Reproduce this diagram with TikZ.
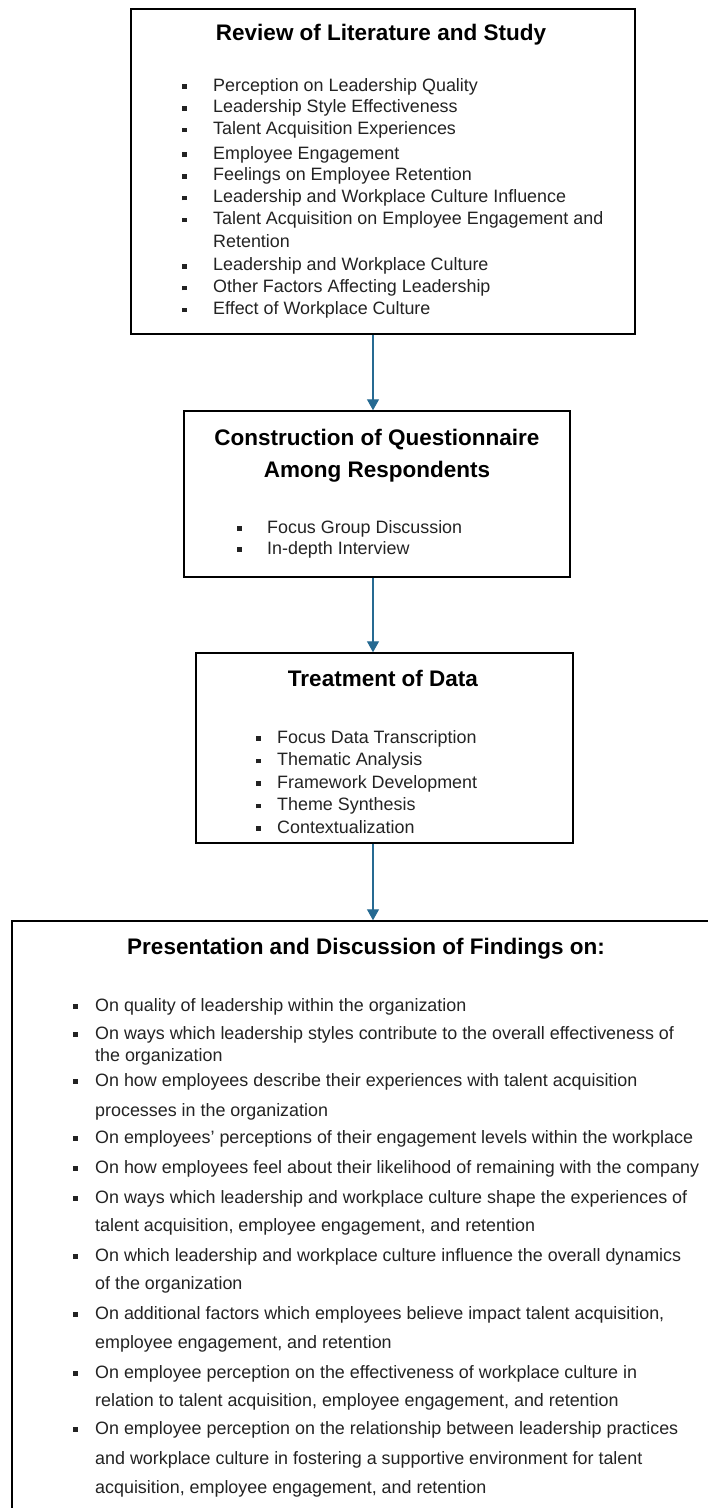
\documentclass[tikz,border=0pt]{standalone}
\usepackage{fontspec}
\setmainfont{Liberation Sans}
\usetikzlibrary{arrows.meta}

\definecolor{arrowblue}{RGB}{38,106,146}
\definecolor{itemgray}{RGB}{35,35,35}
\newcommand{\sqbullet}{\rule[2.2pt]{4.5pt}{4.5pt}}

\tikzset{
  box/.style={draw=black, line width=1.5pt, inner sep=0pt},
  boxtitle/.style={inner sep=0pt, anchor=base, font=\fontsize{22.5}{32}\selectfont\bfseries},
  itemlist/.style={inner sep=0pt, anchor=base west, text=itemgray, font=\fontsize{17.9}{#1}\selectfont},
  itemlist/.default=22,
  flow/.style={draw=arrowblue, line width=1.4pt, -{Triangle[width=12pt,length=11pt]}}
}

\begin{document}
\begin{tikzpicture}[x=1pt, y=-1pt]
\useasboundingbox (0,0) rectangle (708,1508);
\fill[white] (0,0) rectangle (708,1508);
\clip (0,0) rectangle (708,1508);

% the four steps
\node[box, minimum width=504, minimum height=325] (review) at (383,171.5) {};
\node[box, minimum width=386, minimum height=166] (quest) at (377,494) {};
\node[box, minimum width=377, minimum height=190] (treat) at (384.5,748) {};
\node[box, minimum width=708, minimum height=640] (find) at (366,1241) {};

% arrows down the middle
\coordinate (axis) at (373,0);
\draw[flow] (review.south -| axis) -- (quest.north -| axis);
\draw[flow] (quest.south -| axis) -- (treat.north -| axis);
\draw[flow] (treat.south -| axis) -- (find.north -| axis);

% titles
\node[boxtitle] (reviewtitle) at (381,40) {Review of Literature and Study};
\node[boxtitle] (questtitle) at (377,445) {\begin{tabular}[t]{@{}c@{}}Construction of Questionnaire\\ Among Respondents\end{tabular}};
\node[boxtitle] (treattitle) at (383,686) {Treatment of Data};
\node[boxtitle] (findtitle) at (366,954) {Presentation and Discussion of Findings on:};

% lists
\node[itemlist=21.7] (reviewlist) at (182,91) {\begin{tabular}[t]{@{}l@{\hspace{26.5pt}}l@{}}
\sqbullet & Perception on Leadership Quality\\
\sqbullet & Leadership Style Effectiveness\\
\sqbullet & Talent Acquisition Experiences\\[3pt]
\sqbullet & Employee Engagement\\
\sqbullet & Feelings on Employee Retention\\
\sqbullet & Leadership and Workplace Culture Influence\\
\sqbullet & Talent Acquisition on Employee Engagement and\\[1.7pt]
          & Retention\\[1.6pt]
\sqbullet & Leadership and Workplace Culture\\
\sqbullet & Other Factors Affecting Leadership\\
\sqbullet & Effect of Workplace Culture
\end{tabular}};

\node[itemlist=21] (questlist) at (237,533) {\begin{tabular}[t]{@{}l@{\hspace{25.5pt}}l@{}}
\sqbullet & Focus Group Discussion\\
\sqbullet & In-depth Interview
\end{tabular}};

\node[itemlist=22.5] (treatlist) at (256,743) {\begin{tabular}[t]{@{}l@{\hspace{16.5pt}}l@{}}
\sqbullet & Focus Data Transcription\\
\sqbullet & Thematic Analysis\\
\sqbullet & Framework Development\\
\sqbullet & Theme Synthesis\\
\sqbullet & Contextualization
\end{tabular}};

\node[itemlist=22] (findlist) at (73,1011) {\begin{tabular}[t]{@{}l@{\hspace{17.5pt}}l@{}}
\sqbullet & On quality of leadership within the organization\\[6pt]
\sqbullet & On ways which leadership styles contribute to the overall effectiveness of\\
          & the organization\\[3pt]
\sqbullet & On how employees describe their experiences with talent acquisition\\[8pt]
          & processes in the organization\\[5pt]
\sqbullet & On employees' perceptions of their engagement levels within the workplace\\[8pt]
\sqbullet & On how employees feel about their likelihood of remaining with the company\\[8pt]
\sqbullet & On ways which leadership and workplace culture shape the experiences of\\[6pt]
          & talent acquisition, employee engagement, and retention\\[8pt]
\sqbullet & On which leadership and workplace culture influence the overall dynamics\\[6pt]
          & of the organization\\[8pt]
\sqbullet & On additional factors which employees believe impact talent acquisition,\\[7pt]
          & employee engagement, and retention\\[8pt]
\sqbullet & On employee perception on the effectiveness of workplace culture in\\[6pt]
          & relation to talent acquisition, employee engagement, and retention\\[6pt]
\sqbullet & On employee perception on the relationship between leadership practices\\[8pt]
          & and workplace culture in fostering a supportive environment for talent\\[7pt]
          & acquisition, employee engagement, and retention
\end{tabular}};
\end{tikzpicture}
\end{document}
